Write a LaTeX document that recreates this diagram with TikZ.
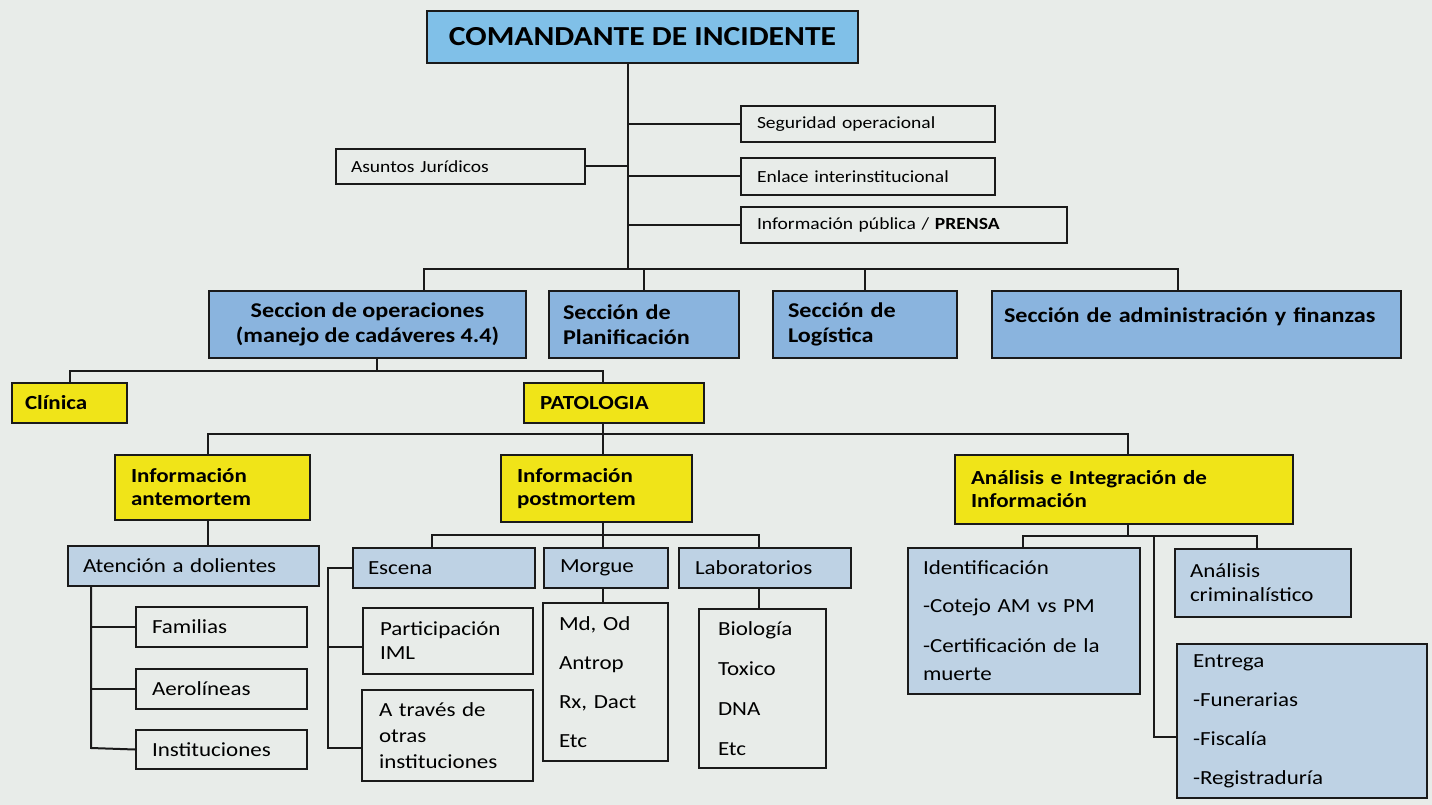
\documentclass[tikz,border=0pt]{standalone}
\usepackage{fontspec}
\setmainfont{Carlito}[FakeStretch=1.15]
\definecolor{bgc}{RGB}{232,236,233}
\definecolor{topblue}{RGB}{128,192,232}
\definecolor{secblue}{RGB}{138,180,222}
\definecolor{lblue}{RGB}{190,210,228}
\definecolor{yel}{RGB}{240,228,24}
\definecolor{linec}{RGB}{26,26,26}
\tikzset{
  box/.style={draw=linec, line width=2pt, anchor=north west, inner ysep=2pt, align=left, text=black},
  plain/.style={box, font=\fontsize{17pt}{20pt}\selectfont},
  sec/.style={box, fill=secblue, font=\bfseries\fontsize{21pt}{25pt}\selectfont},
  yb/.style={box, fill=yel, font=\bfseries\fontsize{20pt}{23pt}\selectfont},
  lb/.style={box, fill=lblue, font=\fontsize{20pt}{24pt}\selectfont},
  wb/.style={box, font=\fontsize{20pt}{24pt}\selectfont},
  conn/.style={draw=linec, line width=2pt}
}
\begin{document}
\begin{tikzpicture}[x=1pt,y=-1pt]
\fill[bgc] (0,0) rectangle (1432,805);
\useasboundingbox (0,0) rectangle (1432,805);

% top
\node[box, fill=topblue, align=center, minimum width=431pt, minimum height=52pt, font=\bfseries\fontsize{27.5pt}{32pt}\selectfont] (cmd) at (426,10) {COMANDANTE DE INCIDENTE};
\node[plain, minimum width=254pt, minimum height=36pt, inner xsep=16pt, text width=222pt] (seg) at (740,105) {Seguridad operacional};
\node[plain, minimum width=249pt, minimum height=35pt, inner xsep=15pt, text width=219pt] (asu) at (335,148) {Asuntos Jurídicos};
\node[plain, minimum width=254pt, minimum height=37pt, inner xsep=16pt, text width=222pt] (enl) at (740,157) {Enlace interinstitucional};
\node[plain, minimum width=326pt, minimum height=36pt, inner xsep=16pt, text width=294pt] (inf) at (740,206) {Información pública / \textbf{PRENSA}};

% sections
\node[sec, align=center, minimum width=317pt, minimum height=67pt] (ops) at (208,290) {Seccion de operaciones\\(manejo de cadáveres 4.4)};
\node[sec, minimum width=190pt, minimum height=67pt, inner xsep=14pt, text width=162pt] (pla) at (548,290) {Sección de\\Planificación};
\node[sec, minimum width=184pt, minimum height=67pt, inner xsep=15pt, text width=154pt] (log) at (772,290) {Sección de\\Logística};
\node[sec, minimum width=409pt, minimum height=67pt, inner xsep=12pt, text width=385pt] (adm) at (991,290) {\mbox{Sección de administración y finanzas}\\[-6pt]\mbox{}};

% yellow
\node[yb, minimum width=115pt, minimum height=40pt, inner xsep=13pt, text width=89pt] (cli) at (11,382) {Clínica};
\node[yb, minimum width=180pt, minimum height=40pt, inner xsep=16pt, text width=148pt] (pat) at (523,382) {PATOLOGIA};
\node[yb, minimum width=195pt, minimum height=65pt, inner xsep=16pt, text width=163pt] (ant) at (114,454) {Información\\antemortem};
\node[yb, minimum width=191pt, minimum height=67pt, inner xsep=16pt, text width=159pt] (pos) at (500,454) {Información\\postmortem};
\node[yb, minimum width=338pt, minimum height=69pt, inner xsep=16pt, text width=306pt] (ana) at (954,454) {\mbox{Análisis e Integración de}\\Información};

% antemortem branch
\node[lb, minimum width=251pt, minimum height=40pt, inner xsep=15pt, text width=221pt] (ate) at (67,545) {\mbox{Atención a dolientes}};
\node[wb, minimum width=171pt, minimum height=40pt, inner xsep=16pt, text width=139pt] (fam) at (135,606) {Familias};
\node[wb, minimum width=171pt, minimum height=40pt, inner xsep=16pt, text width=139pt] (aer) at (135,668) {Aerolíneas};
\node[wb, minimum width=171pt, minimum height=39pt, inner xsep=16pt, text width=139pt] (ins) at (135,729) {Instituciones};

% postmortem branch
\node[lb, minimum width=182pt, minimum height=40pt, inner xsep=15pt, text width=152pt] (esc) at (352,547) {Escena};
\node[lb, minimum width=124pt, minimum height=40pt, inner xsep=16pt, text width=92pt] (mor) at (543,547) {Morgue};
\node[lb, minimum width=172pt, minimum height=40pt, inner xsep=16pt, text width=140pt] (lab) at (678,547) {Laboratorios};
\node[wb, minimum width=170pt, minimum height=66pt, inner xsep=17pt, text width=136pt] (par) at (362,607) {Participación\\IML};
\node[wb, minimum width=171pt, minimum height=91pt, inner xsep=17pt, text width=137pt, font=\fontsize{20pt}{26pt}\selectfont] (atr) at (361,689) {A través de\\otras\\instituciones};
\node[wb, minimum width=125pt, minimum height=158pt, inner xsep=16pt, text width=93pt, font=\fontsize{20pt}{39pt}\selectfont] (mli) at (542,602) {Md, Od\\Antrop\\Rx, Dact\\Etc};
\node[wb, minimum width=127pt, minimum height=159pt, inner xsep=19pt, text width=89pt, font=\fontsize{20pt}{40pt}\selectfont] (lli) at (698,608) {Biología\\Toxico\\DNA\\Etc};

% analysis branch
\node[lb, minimum width=232pt, minimum height=146pt, inner xsep=15pt, text width=202pt, font=\fontsize{20pt}{28pt}\selectfont] (ide) at (907,547) {Identificación\\[10pt]\mbox{-Cotejo AM vs PM}\\[12pt]\mbox{-Certificación de la}\\muerte};
\node[lb, minimum width=176pt, minimum height=68pt, inner xsep=15pt, text width=146pt] (crim) at (1174,548) {Análisis\\criminalístico};
\node[lb, minimum width=250pt, minimum height=154pt, inner xsep=16pt, text width=218pt, font=\fontsize{20pt}{39pt}\selectfont] (ent) at (1176,643) {Entrega\\-Funerarias\\-Fiscalía\\-Registraduría};

% connectors: top
\coordinate (trunk) at (628,269);
\coordinate (bL) at (424,269);
\coordinate (bR) at (1178,269);
\draw[conn] (cmd.south -| trunk) -- (trunk);
\draw[conn] (seg.west) -- (seg.west -| trunk);
\draw[conn] (enl.west) -- (enl.west -| trunk);
\draw[conn] (inf.west) -- (inf.west -| trunk);
\draw[conn] (asu.east) -- (asu.east -| trunk);
\draw[conn] (bL |- ops.north) -- (bL) -- (bR) -- (bR |- adm.north);
\draw[conn] (pla.north) -- (pla.north |- bL);
\draw[conn] (log.north) -- (log.north |- bL);

% operations -> clinica / patologia
\coordinate (h2) at (377,371);
\coordinate (h2p) at (603,371);
\draw[conn] (h2 |- ops.south) -- (h2);
\draw[conn] (cli.north) -- (cli.north |- h2) -- (h2p) -- (h2p |- pat.north);

% patologia -> three
\coordinate (h3) at (603,434);
\coordinate (aL) at (208,434);
\coordinate (aR) at (1128,434);
\draw[conn] (h3 |- pat.south) -- (h3);
\draw[conn] (aL |- ant.north) -- (aL) -- (aR) -- (aR |- ana.north);
\draw[conn] (h3) -- (h3 |- pos.north);

% antemortem
\coordinate (v1) at (91,748);
\draw[conn] (ant.south -| aL) -- (ate.north -| aL);
\draw[conn] (ate.south -| v1) -- (v1) -- (ins.west);
\draw[conn] (fam.west) -- (fam.west -| v1);
\draw[conn] (aer.west) -- (aer.west -| v1);

% postmortem
\coordinate (p) at (603,535);
\coordinate (pe) at (432,535);
\coordinate (pl) at (759,535);
\draw[conn] (pos.south -| p) -- (p);
\draw[conn] (pe |- esc.north) -- (pe) -- (pl) -- (pl |- lab.north);
\draw[conn] (p) -- (p |- mor.north);
\draw[conn] (mor.south -| p) -- (mli.north -| p);
\draw[conn] (lab.south -| pl) -- (lli.north -| pl);
\coordinate (e1) at (328,647);
\coordinate (e2) at (328,748);
\draw[conn] (esc.west) -| (e2) -- (e2 -| atr.west);
\draw[conn] (e1) -- (e1 -| par.west);

% analysis
\coordinate (q) at (1128,536);
\coordinate (qL) at (1023,536);
\coordinate (qR) at (1257,536);
\coordinate (qE) at (1154,737);
\draw[conn] (ana.south -| q) -- (q);
\draw[conn] (qL |- ide.north) -- (qL) -- (qR) -- (qR |- crim.north);
\draw[conn] (qE |- q) -- (qE) -- (qE -| ent.west);
\end{tikzpicture}
\end{document}
